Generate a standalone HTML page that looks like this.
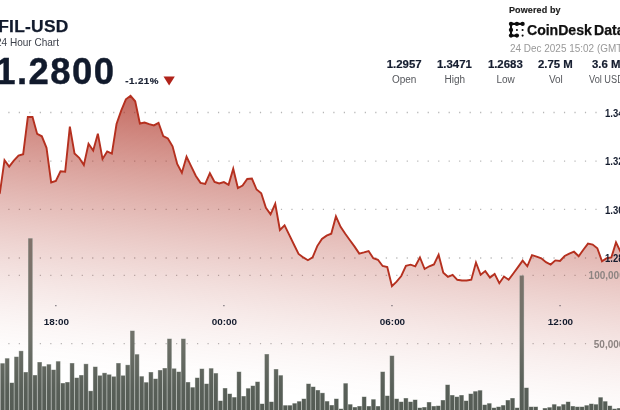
<!DOCTYPE html>
<html><head><meta charset="utf-8"><title>FIL-USD</title>
<style>
html,body{margin:0;padding:0;background:#fff;}
body{width:620px;height:410px;overflow:hidden;position:relative;font-family:"Liberation Sans",sans-serif;color:#111a2c;}
.t{position:absolute;white-space:nowrap;line-height:1;}
#w{position:absolute;left:0;top:0;width:620px;height:410px;overflow:hidden;will-change:opacity;}
svg{position:absolute;left:0;top:0;}
.b{font-weight:bold;}
.stat{position:absolute;width:60px;text-align:center;white-space:nowrap;line-height:1;}
.sv{font-weight:bold;font-size:11.4px;top:59.1px;color:#141c2e;-webkit-text-stroke:0.2px #141c2e;}
.sl{font-size:10px;top:74.6px;color:#55575c;}
.ax{font-weight:bold;font-size:10.3px;color:#141c2e;}
.vx{font-weight:bold;font-size:10px;color:#8d8482;}
</style></head><body><div id="w">
<svg width="620" height="410" viewBox="0 0 620 410">
<defs>
<linearGradient id="g" x1="130" y1="95" x2="100.40" y2="376.89" gradientUnits="userSpaceOnUse">
<stop offset="0.0000" stop-color="#ab2a1c" stop-opacity="0.7000"/>
<stop offset="0.0714" stop-color="#ab2a1c" stop-opacity="0.6264"/>
<stop offset="0.1429" stop-color="#ab2a1c" stop-opacity="0.5555"/>
<stop offset="0.2143" stop-color="#ab2a1c" stop-opacity="0.4875"/>
<stop offset="0.2857" stop-color="#ab2a1c" stop-opacity="0.4226"/>
<stop offset="0.3571" stop-color="#ab2a1c" stop-opacity="0.3608"/>
<stop offset="0.4286" stop-color="#ab2a1c" stop-opacity="0.3024"/>
<stop offset="0.5000" stop-color="#ab2a1c" stop-opacity="0.2475"/>
<stop offset="0.5714" stop-color="#ab2a1c" stop-opacity="0.1964"/>
<stop offset="0.6429" stop-color="#ab2a1c" stop-opacity="0.1494"/>
<stop offset="0.7143" stop-color="#ab2a1c" stop-opacity="0.1069"/>
<stop offset="0.7857" stop-color="#ab2a1c" stop-opacity="0.0694"/>
<stop offset="0.8571" stop-color="#ab2a1c" stop-opacity="0.0378"/>
<stop offset="0.9286" stop-color="#ab2a1c" stop-opacity="0.0134"/>
<stop offset="1.0000" stop-color="#ab2a1c" stop-opacity="0.0000"/>
</linearGradient>
<linearGradient id="bg" x1="0" y1="238" x2="0" y2="410" gradientUnits="userSpaceOnUse">
<stop offset="0" stop-color="#80726a"/><stop offset="0.57" stop-color="#70726a"/><stop offset="0.88" stop-color="#585f58"/><stop offset="1" stop-color="#555c55"/>
</linearGradient>
</defs>
<g stroke="#b6b6b6" stroke-width="1.3" stroke-dasharray="1.2 9.284" stroke-dashoffset="0"><line x1="8.3" x2="600" y1="112.5" y2="112.5"/><line x1="8.3" x2="600" y1="161.2" y2="161.2"/><line x1="8.3" x2="600" y1="209.4" y2="209.4"/><line x1="8.3" x2="600" y1="258.0" y2="258.0"/><line x1="8.3" x2="600" y1="275.3" y2="275.3"/><line x1="8.3" x2="600" y1="343.7" y2="343.7"/></g>
<path d="M-0.17,193.2 L4.50,160.2 L9.17,166.6 L13.83,160.6 L18.50,155.6 L23.17,154.2 L27.84,117.0 L32.51,117.0 L37.17,133.9 L41.84,136.3 L46.51,147.8 L51.18,182.5 L55.85,180.9 L60.51,171.3 L65.18,171.7 L69.85,126.6 L74.52,153.5 L79.19,157.8 L83.85,165.0 L88.52,143.8 L93.19,150.6 L97.86,133.7 L102.53,159.0 L107.19,151.5 L111.86,153.7 L116.53,124.0 L121.20,110.6 L125.87,99.3 L130.53,95.8 L135.20,101.3 L139.87,123.5 L144.54,122.5 L149.21,124.2 L153.87,125.4 L158.54,122.8 L163.21,136.0 L167.88,138.4 L172.55,146.3 L177.21,163.9 L181.88,172.7 L186.55,156.6 L191.22,166.3 L195.89,176.0 L200.55,182.9 L205.22,184.0 L209.89,173.2 L214.56,181.9 L219.23,183.5 L223.89,182.1 L228.56,184.8 L233.23,168.7 L237.90,188.0 L242.57,185.6 L247.23,179.0 L251.90,178.6 L256.57,189.5 L261.24,193.2 L265.91,207.7 L270.57,214.4 L275.24,203.8 L279.91,230.0 L284.58,225.3 L289.25,234.8 L293.91,244.5 L298.58,253.9 L303.25,257.4 L307.92,260.2 L312.59,257.4 L317.25,246.1 L321.92,238.9 L326.59,235.6 L331.26,233.7 L335.93,216.4 L340.59,226.8 L345.26,233.7 L349.93,240.2 L354.60,246.6 L359.27,253.6 L363.93,252.4 L368.60,251.0 L373.27,258.2 L377.94,259.8 L382.61,266.0 L387.27,267.1 L391.94,286.1 L396.61,281.6 L401.28,276.0 L405.95,265.8 L410.61,264.7 L415.28,266.3 L419.95,257.4 L424.62,269.0 L429.29,266.3 L433.95,264.4 L438.62,254.7 L443.29,272.7 L447.96,276.8 L452.63,274.8 L457.29,279.8 L461.96,280.5 L466.63,280.5 L471.30,279.7 L475.97,262.5 L480.63,274.8 L485.30,271.1 L489.97,277.6 L494.64,273.9 L499.31,283.2 L503.97,276.5 L508.64,279.7 L513.31,273.5 L517.98,267.1 L522.65,260.6 L527.31,266.3 L531.98,255.2 L536.65,256.6 L541.32,258.3 L545.99,262.2 L550.65,264.5 L555.32,260.4 L559.99,261.0 L564.66,256.0 L569.33,253.7 L573.99,251.7 L578.66,256.3 L583.33,249.8 L588.00,243.6 L592.67,244.6 L597.33,248.3 L602.00,261.2 L606.67,258.2 L611.34,257.5 L616.01,242.4 L620.67,252.0 L620.67,412 L-0.17,412 Z" fill="url(#g)"/>
<g fill="#9aa09a" opacity="0.85"><rect x="0.23" y="363.2" width="4.64" height="48.4"/><rect x="4.87" y="358.2" width="4.64" height="53.4"/><rect x="9.50" y="382.6" width="4.64" height="29.0"/><rect x="14.14" y="356.6" width="4.64" height="55.0"/><rect x="18.77" y="350.8" width="4.64" height="60.8"/><rect x="23.41" y="372.0" width="4.64" height="39.6"/><rect x="28.05" y="238.2" width="4.64" height="173.4"/><rect x="32.68" y="375.0" width="4.64" height="36.6"/><rect x="37.32" y="362.0" width="4.64" height="49.6"/><rect x="41.95" y="366.2" width="4.64" height="45.4"/><rect x="46.59" y="364.2" width="4.64" height="47.4"/><rect x="51.23" y="369.6" width="4.64" height="42.0"/><rect x="55.86" y="361.2" width="4.64" height="50.4"/><rect x="60.50" y="383.0" width="4.64" height="28.6"/><rect x="65.13" y="382.0" width="4.64" height="29.6"/><rect x="69.77" y="363.0" width="4.64" height="48.6"/><rect x="74.41" y="377.6" width="4.64" height="34.0"/><rect x="79.04" y="375.0" width="4.64" height="36.6"/><rect x="83.68" y="363.8" width="4.64" height="47.8"/><rect x="88.31" y="390.8" width="4.64" height="20.8"/><rect x="92.95" y="366.6" width="4.64" height="45.0"/><rect x="97.59" y="375.4" width="4.64" height="36.2"/><rect x="102.22" y="372.8" width="4.64" height="38.8"/><rect x="106.86" y="374.4" width="4.64" height="37.2"/><rect x="111.49" y="376.4" width="4.64" height="35.2"/><rect x="116.13" y="363.0" width="4.64" height="48.6"/><rect x="120.77" y="375.4" width="4.64" height="36.2"/><rect x="125.40" y="364.8" width="4.64" height="46.8"/><rect x="130.04" y="330.6" width="4.64" height="81.0"/><rect x="134.67" y="354.2" width="4.64" height="57.4"/><rect x="139.31" y="376.2" width="4.64" height="35.4"/><rect x="143.95" y="382.2" width="4.64" height="29.4"/><rect x="148.58" y="372.0" width="4.64" height="39.6"/><rect x="153.22" y="378.6" width="4.64" height="33.0"/><rect x="157.85" y="370.0" width="4.64" height="41.6"/><rect x="162.49" y="368.0" width="4.64" height="43.6"/><rect x="167.13" y="338.6" width="4.64" height="73.0"/><rect x="171.76" y="368.4" width="4.64" height="43.2"/><rect x="176.40" y="371.6" width="4.64" height="40.0"/><rect x="181.03" y="338.6" width="4.64" height="73.0"/><rect x="185.67" y="382.0" width="4.64" height="29.6"/><rect x="190.31" y="387.2" width="4.64" height="24.4"/><rect x="194.94" y="377.6" width="4.64" height="34.0"/><rect x="199.58" y="368.6" width="4.64" height="43.0"/><rect x="204.21" y="383.6" width="4.64" height="28.0"/><rect x="208.85" y="368.2" width="4.64" height="43.4"/><rect x="213.49" y="373.1" width="4.64" height="38.5"/><rect x="218.12" y="400.6" width="4.64" height="11.0"/><rect x="222.76" y="388.0" width="4.64" height="23.6"/><rect x="227.39" y="393.6" width="4.64" height="18.0"/><rect x="232.03" y="397.1" width="4.64" height="14.5"/><rect x="236.67" y="371.6" width="4.64" height="40.0"/><rect x="241.30" y="396.0" width="4.64" height="15.6"/><rect x="245.94" y="388.2" width="4.64" height="23.4"/><rect x="250.57" y="385.6" width="4.64" height="26.0"/><rect x="255.21" y="381.6" width="4.64" height="30.0"/><rect x="259.85" y="403.6" width="4.64" height="8.0"/><rect x="264.48" y="354.0" width="4.64" height="57.6"/><rect x="269.12" y="401.6" width="4.64" height="10.0"/><rect x="273.75" y="369.0" width="4.64" height="42.6"/><rect x="278.39" y="375.2" width="4.64" height="36.4"/><rect x="283.03" y="405.2" width="4.64" height="6.4"/><rect x="287.66" y="405.2" width="4.64" height="6.4"/><rect x="292.30" y="403.2" width="4.64" height="8.4"/><rect x="296.93" y="401.2" width="4.64" height="10.4"/><rect x="301.57" y="398.6" width="4.64" height="13.0"/><rect x="306.21" y="383.6" width="4.64" height="28.0"/><rect x="310.84" y="386.6" width="4.64" height="25.0"/><rect x="315.48" y="390.0" width="4.64" height="21.6"/><rect x="320.11" y="392.8" width="4.64" height="18.8"/><rect x="324.75" y="401.1" width="4.64" height="10.5"/><rect x="329.39" y="405.0" width="4.64" height="6.6"/><rect x="334.02" y="398.6" width="4.64" height="13.0"/><rect x="338.66" y="408.6" width="4.64" height="3.0"/><rect x="343.29" y="383.2" width="4.64" height="28.4"/><rect x="347.93" y="404.2" width="4.64" height="7.4"/><rect x="352.57" y="407.0" width="4.64" height="4.6"/><rect x="357.20" y="406.0" width="4.64" height="5.6"/><rect x="361.84" y="396.6" width="4.64" height="15.0"/><rect x="366.47" y="406.0" width="4.64" height="5.6"/><rect x="371.11" y="399.2" width="4.64" height="12.4"/><rect x="375.75" y="406.0" width="4.64" height="5.6"/><rect x="380.38" y="371.6" width="4.64" height="40.0"/><rect x="385.02" y="395.6" width="4.64" height="16.0"/><rect x="389.65" y="355.6" width="4.64" height="56.0"/><rect x="394.29" y="398.6" width="4.64" height="13.0"/><rect x="398.93" y="401.6" width="4.64" height="10.0"/><rect x="403.56" y="398.0" width="4.64" height="13.6"/><rect x="408.20" y="401.6" width="4.64" height="10.0"/><rect x="412.83" y="399.6" width="4.64" height="12.0"/><rect x="417.47" y="407.6" width="4.64" height="4.0"/><rect x="422.11" y="407.0" width="4.64" height="4.6"/><rect x="426.74" y="402.0" width="4.64" height="9.6"/><rect x="431.38" y="406.0" width="4.64" height="5.6"/><rect x="436.01" y="405.6" width="4.64" height="6.0"/><rect x="440.65" y="400.0" width="4.64" height="11.6"/><rect x="445.29" y="384.6" width="4.64" height="27.0"/><rect x="449.92" y="395.0" width="4.64" height="16.6"/><rect x="454.56" y="396.6" width="4.64" height="15.0"/><rect x="459.19" y="395.0" width="4.64" height="16.6"/><rect x="463.83" y="400.6" width="4.64" height="11.0"/><rect x="468.47" y="393.6" width="4.64" height="18.0"/><rect x="473.10" y="391.2" width="4.64" height="20.4"/><rect x="477.74" y="390.2" width="4.64" height="21.4"/><rect x="482.37" y="404.6" width="4.64" height="7.0"/><rect x="487.01" y="403.2" width="4.64" height="8.4"/><rect x="491.65" y="407.6" width="4.64" height="4.0"/><rect x="496.28" y="406.6" width="4.64" height="5.0"/><rect x="500.92" y="405.1" width="4.64" height="6.5"/><rect x="505.55" y="400.0" width="4.64" height="11.6"/><rect x="510.19" y="398.0" width="4.64" height="13.6"/><rect x="514.83" y="407.6" width="4.64" height="4.0"/><rect x="519.46" y="275.4" width="4.64" height="136.2"/><rect x="524.10" y="387.6" width="4.64" height="24.0"/><rect x="528.73" y="406.6" width="4.64" height="5.0"/><rect x="533.37" y="406.6" width="4.64" height="5.0"/><rect x="542.64" y="408.0" width="4.64" height="3.6"/><rect x="547.28" y="407.2" width="4.64" height="4.4"/><rect x="551.91" y="404.2" width="4.64" height="7.4"/><rect x="556.55" y="406.2" width="4.64" height="5.4"/><rect x="561.19" y="404.2" width="4.64" height="7.4"/><rect x="565.82" y="401.6" width="4.64" height="10.0"/><rect x="570.46" y="406.0" width="4.64" height="5.6"/><rect x="575.09" y="406.6" width="4.64" height="5.0"/><rect x="579.73" y="406.6" width="4.64" height="5.0"/><rect x="584.37" y="405.2" width="4.64" height="6.4"/><rect x="589.00" y="403.6" width="4.64" height="8.0"/><rect x="593.64" y="404.2" width="4.64" height="7.4"/><rect x="598.27" y="397.2" width="4.64" height="14.4"/><rect x="602.91" y="401.2" width="4.64" height="10.4"/><rect x="607.55" y="405.6" width="4.64" height="6.0"/><rect x="612.18" y="408.6" width="4.64" height="3.0"/><rect x="616.82" y="408.0" width="4.64" height="3.6"/></g>
<g fill="url(#bg)"><rect x="0.68" y="363.6" width="3.74" height="48.4"/><rect x="5.32" y="358.6" width="3.74" height="53.4"/><rect x="9.95" y="383.0" width="3.74" height="29.0"/><rect x="14.59" y="357.0" width="3.74" height="55.0"/><rect x="19.22" y="351.2" width="3.74" height="60.8"/><rect x="23.86" y="372.4" width="3.74" height="39.6"/><rect x="28.50" y="238.6" width="3.74" height="173.4"/><rect x="33.13" y="375.4" width="3.74" height="36.6"/><rect x="37.77" y="362.4" width="3.74" height="49.6"/><rect x="42.40" y="366.6" width="3.74" height="45.4"/><rect x="47.04" y="364.6" width="3.74" height="47.4"/><rect x="51.68" y="370.0" width="3.74" height="42.0"/><rect x="56.31" y="361.6" width="3.74" height="50.4"/><rect x="60.95" y="383.4" width="3.74" height="28.6"/><rect x="65.58" y="382.4" width="3.74" height="29.6"/><rect x="70.22" y="363.4" width="3.74" height="48.6"/><rect x="74.86" y="378.0" width="3.74" height="34.0"/><rect x="79.49" y="375.4" width="3.74" height="36.6"/><rect x="84.13" y="364.2" width="3.74" height="47.8"/><rect x="88.76" y="391.2" width="3.74" height="20.8"/><rect x="93.40" y="367.0" width="3.74" height="45.0"/><rect x="98.04" y="375.8" width="3.74" height="36.2"/><rect x="102.67" y="373.2" width="3.74" height="38.8"/><rect x="107.31" y="374.8" width="3.74" height="37.2"/><rect x="111.94" y="376.8" width="3.74" height="35.2"/><rect x="116.58" y="363.4" width="3.74" height="48.6"/><rect x="121.22" y="375.8" width="3.74" height="36.2"/><rect x="125.85" y="365.2" width="3.74" height="46.8"/><rect x="130.49" y="331.0" width="3.74" height="81.0"/><rect x="135.12" y="354.6" width="3.74" height="57.4"/><rect x="139.76" y="376.6" width="3.74" height="35.4"/><rect x="144.40" y="382.6" width="3.74" height="29.4"/><rect x="149.03" y="372.4" width="3.74" height="39.6"/><rect x="153.67" y="379.0" width="3.74" height="33.0"/><rect x="158.30" y="370.4" width="3.74" height="41.6"/><rect x="162.94" y="368.4" width="3.74" height="43.6"/><rect x="167.58" y="339.0" width="3.74" height="73.0"/><rect x="172.21" y="368.8" width="3.74" height="43.2"/><rect x="176.85" y="372.0" width="3.74" height="40.0"/><rect x="181.48" y="339.0" width="3.74" height="73.0"/><rect x="186.12" y="382.4" width="3.74" height="29.6"/><rect x="190.76" y="387.6" width="3.74" height="24.4"/><rect x="195.39" y="378.0" width="3.74" height="34.0"/><rect x="200.03" y="369.0" width="3.74" height="43.0"/><rect x="204.66" y="384.0" width="3.74" height="28.0"/><rect x="209.30" y="368.6" width="3.74" height="43.4"/><rect x="213.94" y="373.5" width="3.74" height="38.5"/><rect x="218.57" y="401.0" width="3.74" height="11.0"/><rect x="223.21" y="388.4" width="3.74" height="23.6"/><rect x="227.84" y="394.0" width="3.74" height="18.0"/><rect x="232.48" y="397.5" width="3.74" height="14.5"/><rect x="237.12" y="372.0" width="3.74" height="40.0"/><rect x="241.75" y="396.4" width="3.74" height="15.6"/><rect x="246.39" y="388.6" width="3.74" height="23.4"/><rect x="251.02" y="386.0" width="3.74" height="26.0"/><rect x="255.66" y="382.0" width="3.74" height="30.0"/><rect x="260.30" y="404.0" width="3.74" height="8.0"/><rect x="264.93" y="354.4" width="3.74" height="57.6"/><rect x="269.57" y="402.0" width="3.74" height="10.0"/><rect x="274.20" y="369.4" width="3.74" height="42.6"/><rect x="278.84" y="375.6" width="3.74" height="36.4"/><rect x="283.48" y="405.6" width="3.74" height="6.4"/><rect x="288.11" y="405.6" width="3.74" height="6.4"/><rect x="292.75" y="403.6" width="3.74" height="8.4"/><rect x="297.38" y="401.6" width="3.74" height="10.4"/><rect x="302.02" y="399.0" width="3.74" height="13.0"/><rect x="306.66" y="384.0" width="3.74" height="28.0"/><rect x="311.29" y="387.0" width="3.74" height="25.0"/><rect x="315.93" y="390.4" width="3.74" height="21.6"/><rect x="320.56" y="393.2" width="3.74" height="18.8"/><rect x="325.20" y="401.5" width="3.74" height="10.5"/><rect x="329.84" y="405.4" width="3.74" height="6.6"/><rect x="334.47" y="399.0" width="3.74" height="13.0"/><rect x="339.11" y="409.0" width="3.74" height="3.0"/><rect x="343.74" y="383.6" width="3.74" height="28.4"/><rect x="348.38" y="404.6" width="3.74" height="7.4"/><rect x="353.02" y="407.4" width="3.74" height="4.6"/><rect x="357.65" y="406.4" width="3.74" height="5.6"/><rect x="362.29" y="397.0" width="3.74" height="15.0"/><rect x="366.92" y="406.4" width="3.74" height="5.6"/><rect x="371.56" y="399.6" width="3.74" height="12.4"/><rect x="376.20" y="406.4" width="3.74" height="5.6"/><rect x="380.83" y="372.0" width="3.74" height="40.0"/><rect x="385.47" y="396.0" width="3.74" height="16.0"/><rect x="390.10" y="356.0" width="3.74" height="56.0"/><rect x="394.74" y="399.0" width="3.74" height="13.0"/><rect x="399.38" y="402.0" width="3.74" height="10.0"/><rect x="404.01" y="398.4" width="3.74" height="13.6"/><rect x="408.65" y="402.0" width="3.74" height="10.0"/><rect x="413.28" y="400.0" width="3.74" height="12.0"/><rect x="417.92" y="408.0" width="3.74" height="4.0"/><rect x="422.56" y="407.4" width="3.74" height="4.6"/><rect x="427.19" y="402.4" width="3.74" height="9.6"/><rect x="431.83" y="406.4" width="3.74" height="5.6"/><rect x="436.46" y="406.0" width="3.74" height="6.0"/><rect x="441.10" y="400.4" width="3.74" height="11.6"/><rect x="445.74" y="385.0" width="3.74" height="27.0"/><rect x="450.37" y="395.4" width="3.74" height="16.6"/><rect x="455.01" y="397.0" width="3.74" height="15.0"/><rect x="459.64" y="395.4" width="3.74" height="16.6"/><rect x="464.28" y="401.0" width="3.74" height="11.0"/><rect x="468.92" y="394.0" width="3.74" height="18.0"/><rect x="473.55" y="391.6" width="3.74" height="20.4"/><rect x="478.19" y="390.6" width="3.74" height="21.4"/><rect x="482.82" y="405.0" width="3.74" height="7.0"/><rect x="487.46" y="403.6" width="3.74" height="8.4"/><rect x="492.10" y="408.0" width="3.74" height="4.0"/><rect x="496.73" y="407.0" width="3.74" height="5.0"/><rect x="501.37" y="405.5" width="3.74" height="6.5"/><rect x="506.00" y="400.4" width="3.74" height="11.6"/><rect x="510.64" y="398.4" width="3.74" height="13.6"/><rect x="515.28" y="408.0" width="3.74" height="4.0"/><rect x="519.91" y="275.8" width="3.74" height="136.2"/><rect x="524.55" y="388.0" width="3.74" height="24.0"/><rect x="529.18" y="407.0" width="3.74" height="5.0"/><rect x="533.82" y="407.0" width="3.74" height="5.0"/><rect x="543.09" y="408.4" width="3.74" height="3.6"/><rect x="547.73" y="407.6" width="3.74" height="4.4"/><rect x="552.36" y="404.6" width="3.74" height="7.4"/><rect x="557.00" y="406.6" width="3.74" height="5.4"/><rect x="561.64" y="404.6" width="3.74" height="7.4"/><rect x="566.27" y="402.0" width="3.74" height="10.0"/><rect x="570.91" y="406.4" width="3.74" height="5.6"/><rect x="575.54" y="407.0" width="3.74" height="5.0"/><rect x="580.18" y="407.0" width="3.74" height="5.0"/><rect x="584.82" y="405.6" width="3.74" height="6.4"/><rect x="589.45" y="404.0" width="3.74" height="8.0"/><rect x="594.09" y="404.6" width="3.74" height="7.4"/><rect x="598.72" y="397.6" width="3.74" height="14.4"/><rect x="603.36" y="401.6" width="3.74" height="10.4"/><rect x="608.00" y="406.0" width="3.74" height="6.0"/><rect x="612.63" y="409.0" width="3.74" height="3.0"/><rect x="617.27" y="408.4" width="3.74" height="3.6"/></g>
<path d="M-0.17,193.2 L4.50,160.2 L9.17,166.6 L13.83,160.6 L18.50,155.6 L23.17,154.2 L27.84,117.0 L32.51,117.0 L37.17,133.9 L41.84,136.3 L46.51,147.8 L51.18,182.5 L55.85,180.9 L60.51,171.3 L65.18,171.7 L69.85,126.6 L74.52,153.5 L79.19,157.8 L83.85,165.0 L88.52,143.8 L93.19,150.6 L97.86,133.7 L102.53,159.0 L107.19,151.5 L111.86,153.7 L116.53,124.0 L121.20,110.6 L125.87,99.3 L130.53,95.8 L135.20,101.3 L139.87,123.5 L144.54,122.5 L149.21,124.2 L153.87,125.4 L158.54,122.8 L163.21,136.0 L167.88,138.4 L172.55,146.3 L177.21,163.9 L181.88,172.7 L186.55,156.6 L191.22,166.3 L195.89,176.0 L200.55,182.9 L205.22,184.0 L209.89,173.2 L214.56,181.9 L219.23,183.5 L223.89,182.1 L228.56,184.8 L233.23,168.7 L237.90,188.0 L242.57,185.6 L247.23,179.0 L251.90,178.6 L256.57,189.5 L261.24,193.2 L265.91,207.7 L270.57,214.4 L275.24,203.8 L279.91,230.0 L284.58,225.3 L289.25,234.8 L293.91,244.5 L298.58,253.9 L303.25,257.4 L307.92,260.2 L312.59,257.4 L317.25,246.1 L321.92,238.9 L326.59,235.6 L331.26,233.7 L335.93,216.4 L340.59,226.8 L345.26,233.7 L349.93,240.2 L354.60,246.6 L359.27,253.6 L363.93,252.4 L368.60,251.0 L373.27,258.2 L377.94,259.8 L382.61,266.0 L387.27,267.1 L391.94,286.1 L396.61,281.6 L401.28,276.0 L405.95,265.8 L410.61,264.7 L415.28,266.3 L419.95,257.4 L424.62,269.0 L429.29,266.3 L433.95,264.4 L438.62,254.7 L443.29,272.7 L447.96,276.8 L452.63,274.8 L457.29,279.8 L461.96,280.5 L466.63,280.5 L471.30,279.7 L475.97,262.5 L480.63,274.8 L485.30,271.1 L489.97,277.6 L494.64,273.9 L499.31,283.2 L503.97,276.5 L508.64,279.7 L513.31,273.5 L517.98,267.1 L522.65,260.6 L527.31,266.3 L531.98,255.2 L536.65,256.6 L541.32,258.3 L545.99,262.2 L550.65,264.5 L555.32,260.4 L559.99,261.0 L564.66,256.0 L569.33,253.7 L573.99,251.7 L578.66,256.3 L583.33,249.8 L588.00,243.6 L592.67,244.6 L597.33,248.3 L602.00,261.2 L606.67,258.2 L611.34,257.5 L616.01,242.4 L620.67,252.0" fill="none" stroke="#b5301f" stroke-width="1.9" stroke-linejoin="miter" stroke-linecap="round"/>
<rect x="55.25" y="305.2" width="1.2" height="1" fill="#4a4650"/><rect x="223.30" y="305.2" width="1.2" height="1" fill="#4a4650"/><rect x="391.37" y="305.2" width="1.2" height="1" fill="#4a4650"/><rect x="559.45" y="305.2" width="1.2" height="1" fill="#4a4650"/>
<path d="M163.5,76.4 L174.8,76.4 L169.15,85.6 Z" fill="#b0231a"/>
<g fill="#0c0c0c" stroke="#0c0c0c" stroke-width="2.1" stroke-linecap="round">
<path d="M522.6,23.9 L511,23.9 L511,35.6 L516.9,35.6" fill="none"/>
<g stroke="none"><circle cx="511" cy="23.9" r="2.15"/><circle cx="516.9" cy="23.9" r="2.15"/><circle cx="522.6" cy="23.9" r="2.15"/><circle cx="511" cy="30" r="2.15"/><circle cx="511" cy="35.6" r="2.15"/><circle cx="516.9" cy="35.6" r="2.15"/>
<circle cx="516.9" cy="30" r="1.05"/><circle cx="522.6" cy="30" r="1.05"/><circle cx="522.6" cy="35.6" r="1.05"/></g>
</g>
</svg>
<div class="t b" style="left:-1.8px;top:17.9px;font-size:17.4px;letter-spacing:0.25px;-webkit-text-stroke:0.25px #111a2c;color:#111a2c;">FIL-USD</div>
<div class="t" style="left:-3.8px;top:36.8px;font-size:10.5px;color:#3d414b;transform-origin:0 0;transform:scaleX(0.955);">24 Hour Chart</div>
<div class="t b" style="right:504.6px;top:53.6px;font-size:36.5px;letter-spacing:1.4px;-webkit-text-stroke:0.4px #111a2c;color:#111a2c;">1.2800</div>
<div class="t b" style="left:125.2px;top:76.4px;font-size:9.8px;letter-spacing:0.45px;-webkit-text-stroke:0.2px #1a2133;color:#1a2133;">-1.21%</div>
<div class="t b" style="left:509px;top:6.1px;font-size:9px;color:#1c1c1c;letter-spacing:0.12px;-webkit-text-stroke:0.15px #1c1c1c;">Powered by</div>
<div class="t b" style="left:527px;top:23.2px;font-size:14.1px;color:#111;letter-spacing:-0.03px;-webkit-text-stroke:0.25px #111;">CoinDesk<span style="margin-left:2.3px">Data</span></div>
<div class="t" style="left:509.6px;top:44.4px;font-size:10.2px;color:#999;transform-origin:0 0;transform:scaleX(0.977);">24 Dec 2025 15:02 (GMT)</div>

<div class="stat sv" style="left:374.2px;">1.2957</div><div class="stat sl" style="left:374.2px;">Open</div>
<div class="stat sv" style="left:424.4px;">1.3471</div><div class="stat sl" style="left:424.8px;">High</div>
<div class="stat sv" style="left:475.3px;">1.2683</div><div class="stat sl" style="left:475.6px;">Low</div>
<div class="stat sv" style="left:525.4px;">2.75 M</div><div class="stat sl" style="left:525.9px;">Vol</div>
<div class="t sv" style="left:592px;position:absolute;">3.6 M</div><div class="t sl" style="left:589.3px;transform-origin:0 0;transform:scaleX(0.92);">Vol USD</div>

<div class="t ax" style="left:605.2px;top:108.8px;transform-origin:0 0;transform:scaleX(0.92);">1.34</div>
<div class="t ax" style="left:605.2px;top:157.4px;transform-origin:0 0;transform:scaleX(0.92);">1.32</div>
<div class="t ax" style="left:605.2px;top:205.7px;transform-origin:0 0;transform:scaleX(0.92);">1.30</div>
<div class="t ax" style="left:605.2px;top:254.2px;transform-origin:0 0;transform:scaleX(0.92);">1.28</div>
<div class="t vx" style="left:588.6px;top:271.3px;">100,000</div>
<div class="t vx" style="left:593.8px;top:339.5px;">50,000</div>

<div class="t ax" style="left:31.4px;width:50px;text-align:center;top:317.1px;font-size:9.9px;">18:00</div>
<div class="t ax" style="left:199.4px;width:50px;text-align:center;top:317.1px;font-size:9.9px;">00:00</div>
<div class="t ax" style="left:367.5px;width:50px;text-align:center;top:317.1px;font-size:9.9px;">06:00</div>
<div class="t ax" style="left:535.5px;width:50px;text-align:center;top:317.1px;font-size:9.9px;">12:00</div>
</div></body></html>
